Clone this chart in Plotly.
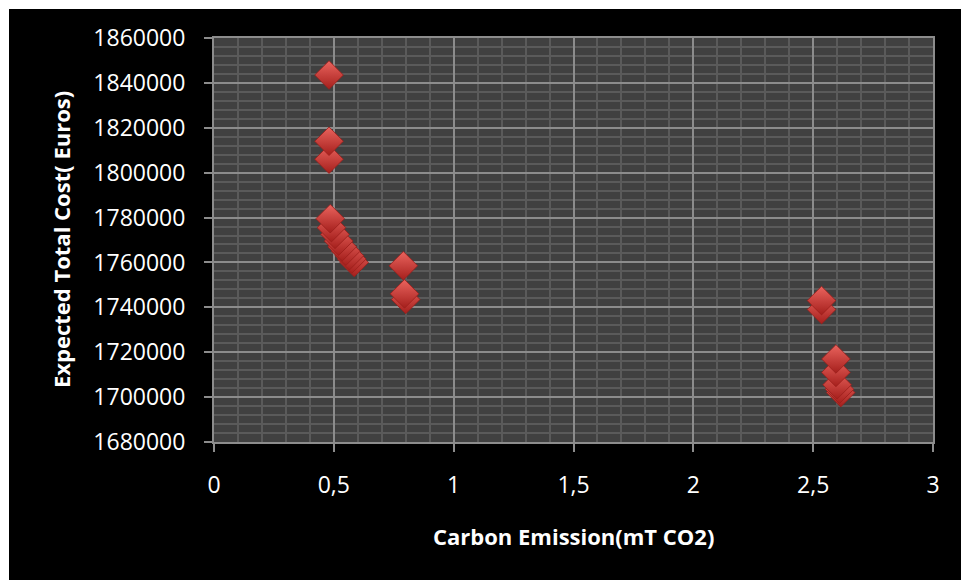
import plotly.graph_objects as go

# Carbon emission (mT CO2) vs expected total cost (Euros)
emission = [2.615, 2.61, 2.60, 2.595, 2.595, 2.535, 2.535,
            0.80, 0.795, 0.79,
            0.585, 0.575, 0.565, 0.55, 0.535, 0.52, 0.505, 0.49,
            0.485, 0.48, 0.48, 0.48]
cost = [1702000, 1703500, 1705500, 1711000, 1717000, 1739000, 1743000,
        1743500, 1746000, 1758500,
        1760000, 1761500, 1763000, 1765000, 1767000, 1769500, 1772500, 1775500,
        1779500, 1806000, 1814000, 1843500]

x_ticks = [0, 0.5, 1, 1.5, 2, 2.5, 3]
x_ticktext = ["0", "0,5", "1", "1,5", "2", "2,5", "3"]
y_ticks = [1680000, 1700000, 1720000, 1740000, 1760000, 1780000,
           1800000, 1820000, 1840000, 1860000]
y_ticktext = [str(v) for v in y_ticks]

FONT = "Open Sans"
MAJOR = "#8c8c8c"
MINOR = "#5a5a5a"

fig = go.Figure()
fig.add_trace(go.Scatter(
    x=emission, y=cost, mode="markers",
    marker=dict(symbol="diamond", size=22, color="#ea645e",
                gradient=dict(type="vertical", color="#a51f1c"),
                line=dict(color="#9a1e1b", width=0.8)),
    showlegend=False, hoverinfo="x+y",
))

axis_common = dict(
    showgrid=True, gridcolor=MAJOR, gridwidth=2,
    showline=True, linecolor=MAJOR, linewidth=2, mirror=True,
    ticks="outside", ticklen=8, tickwidth=2, tickcolor=MAJOR,
    tickfont=dict(family=FONT, size=23, color="white"),
    zeroline=False, fixedrange=True,
)

fig.update_xaxes(range=[0, 3], tickvals=x_ticks, ticktext=x_ticktext,
                 minor=dict(dtick=0.1, showgrid=True, gridcolor=MINOR, gridwidth=2),
                 ticklabelstandoff=13, **axis_common)
fig.update_yaxes(range=[1680000, 1860000], tickvals=y_ticks, ticktext=y_ticktext,
                 minor=dict(dtick=4000, showgrid=True, gridcolor=MINOR, gridwidth=2),
                 ticklabelstandoff=14, **axis_common)

# white frame strips at top and left of the black canvas
pl, pr, pt, pb = 214, 28, 38, 138
pw, ph = 961 - pl - pr, 580 - pt - pb
left_edge = (9 - pl) / pw
top_edge = (580 - pb - 9) / ph
fig.add_shape(type="rect", xref="paper", yref="paper", x0=-2, x1=left_edge,
              y0=-2, y1=3, fillcolor="white", line_width=0, layer="above")
fig.add_shape(type="rect", xref="paper", yref="paper", x0=-2, x1=3,
              y0=top_edge, y1=3, fillcolor="white", line_width=0, layer="above")

fig.add_annotation(text="<b>Carbon Emission(mT CO2)</b>", xref="paper", yref="paper",
                   x=(573 - pl) / pw, y=(580 - pb - 536) / ph, showarrow=False,
                   xanchor="center", yanchor="middle",
                   font=dict(family=FONT, size=22, color="white"))
fig.add_annotation(text="<b>Expected Total Cost( Euros)</b>", xref="paper", yref="paper",
                   x=(61 - pl) / pw, y=0.5, showarrow=False, textangle=-90,
                   xanchor="center", yanchor="middle",
                   font=dict(family=FONT, size=22, color="white"))

fig.update_layout(
    width=961, height=580,
    margin=dict(l=pl, r=pr, t=pt, b=pb, autoexpand=False),
    paper_bgcolor="black", plot_bgcolor="#404040",
    font=dict(family=FONT, color="white"),
)

fig.write_html("out.html", config={"displayModeBar": False})
